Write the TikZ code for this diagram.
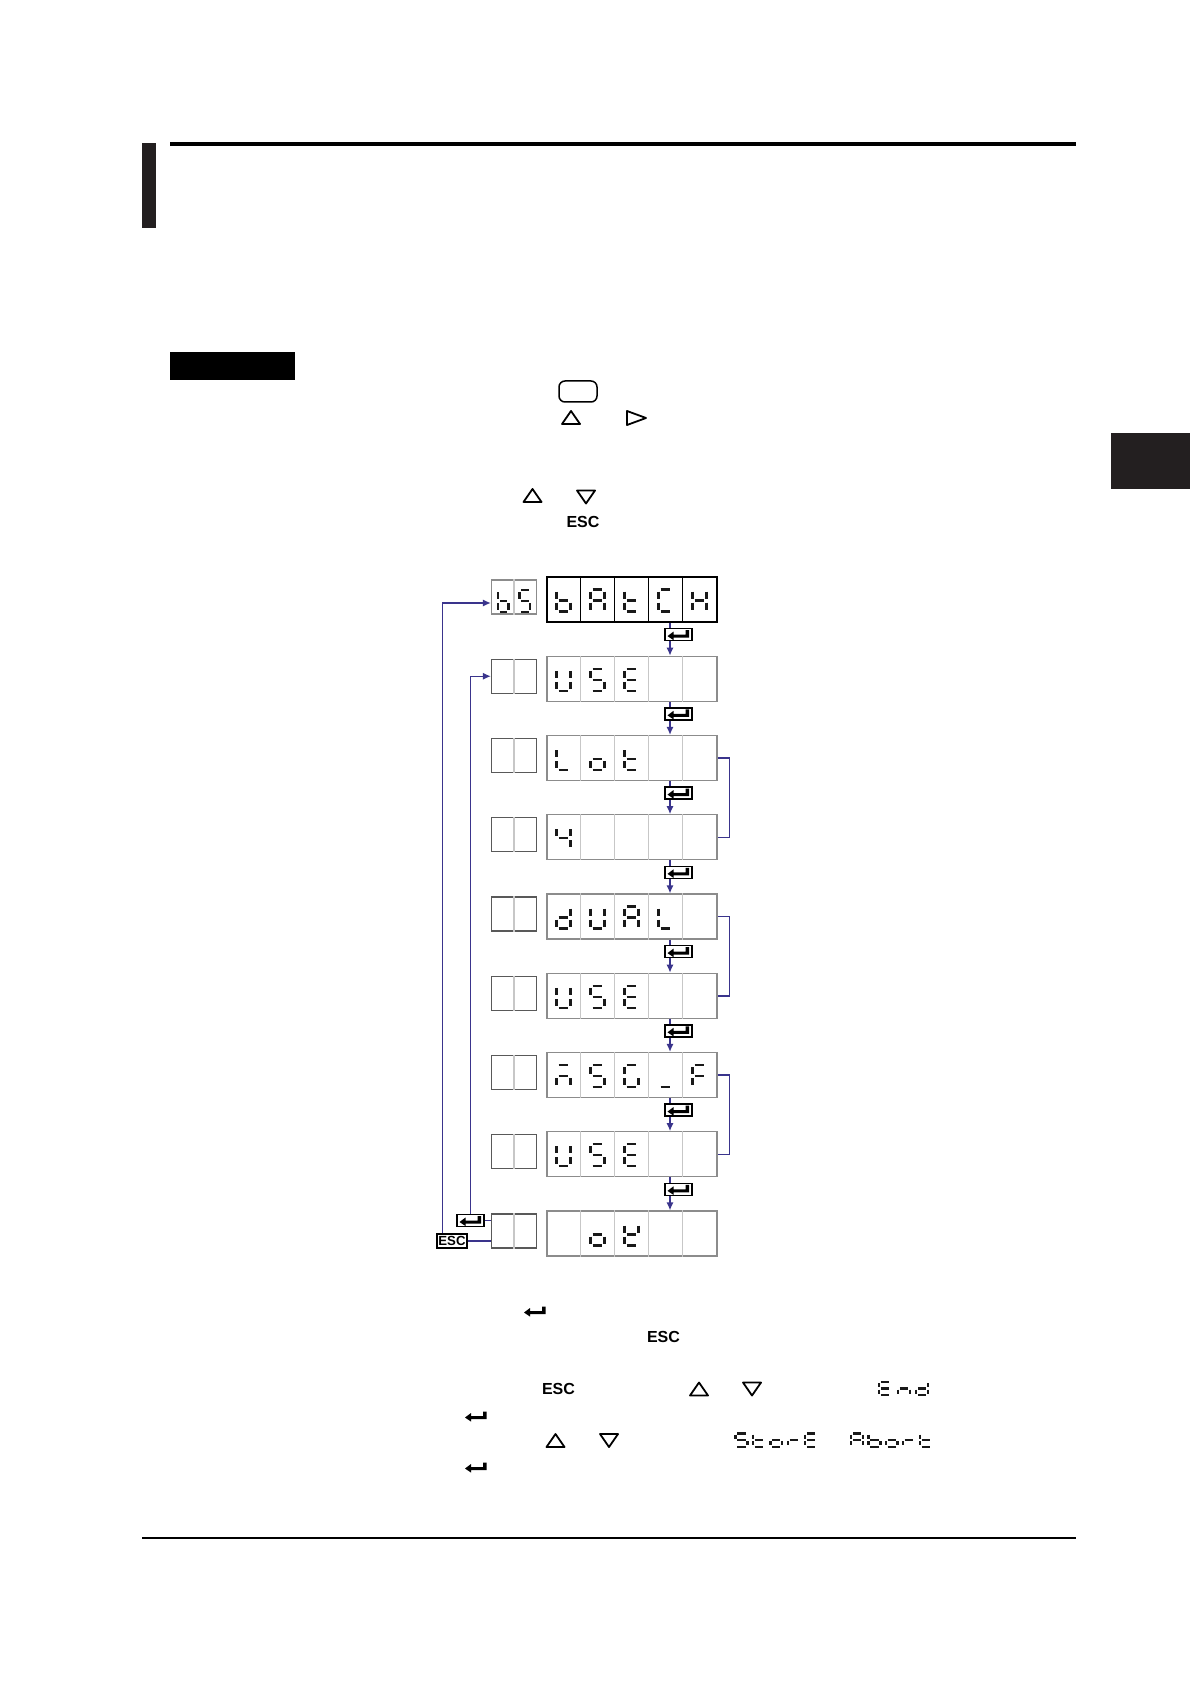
\documentclass[tikz,border=0pt]{standalone}
\usepackage{fontspec}
\setsansfont{Liberation Sans}
\usetikzlibrary{arrows.meta,positioning}

\definecolor{flowblue}{RGB}{58,52,140}
\definecolor{pagedark}{RGB}{35,31,32}

% enter key arrow, centred on (0,0)
\newcommand{\entershape}{(-11,1.5) -- (-5,-3) -- (-5,0) -- (7,0) -- (7,-4.5) -- (10.5,-4.5) -- (10.5,3) -- (-5,3) -- (-5,5.5) -- cycle}

% seven segment digits
\newcommand{\ledseg}[1]{%
  \if a#1\draw[seg] (-4.8,-11) -- (4.8,-11);\fi
  \if b#1\draw[seg] (7,-9) -- (7,-2);\fi
  \if c#1\draw[seg] (7,2) -- (7,9);\fi
  \if d#1\draw[seg] (-4.8,11) -- (4.8,11);\fi
  \if e#1\draw[seg] (-7,2) -- (-7,9);\fi
  \if f#1\draw[seg] (-7,-9) -- (-7,-2);\fi
  \if g#1\draw[seg] (-4.8,0) -- (4.8,0);\fi}
\newcommand{\led}[3][]{\begin{scope}[shift={(#2)},#1]\foreach \s in #3 {\ledseg\s}\end{scope}}
\newcommand{\lcdcell}[3]{\led[shift={(34*#2-17,1)}]{#1.west}{#3}}

\newcommand*{\GlA}{a,b,c,e,f,g}
\newcommand*{\Glb}{c,d,e,f,g}
\newcommand*{\GlC}{a,d,e,f}
\newcommand*{\Gld}{b,c,d,e,g}
\newcommand*{\GlE}{a,d,e,f,g}
\newcommand*{\GlF}{a,e,f,g}
\newcommand*{\GlG}{a,c,d,e,f}
\newcommand*{\GlH}{b,c,e,f,g}
\newcommand*{\GlK}{b,d,e,f,g}
\newcommand*{\GlL}{d,e,f}
\newcommand*{\Glm}{a,c,e,g}
\newcommand*{\Gln}{c,e,g}
\newcommand*{\Glo}{c,d,e,g}
\newcommand*{\Glr}{e,g}
\newcommand*{\GlS}{a,c,d,f,g}
\newcommand*{\Glt}{d,e,f,g}
\newcommand*{\GlU}{b,c,d,e,f}
\newcommand*{\Glfour}{b,c,f,g}
\newcommand*{\Glus}{d}

\newcommand{\uptri}[2]{\draw[keytri] (#1-9,#2+6.5) -- (#1,#2-6.5) -- (#1+9,#2+6.5) -- cycle;}
\newcommand{\downtri}[2]{\draw[keytri] (#1-9,#2-6.5) -- (#1+9,#2-6.5) -- (#1,#2+6.5) -- cycle;}

% one step down the menu
\newcommand{\godown}[2]{%
  \node[enter] (e#1) at ([shift={(46.5,12)}]r#1.south) {};
  \coordinate (d#1) at ([xshift=19pt]r#1.south);
  \draw[flow] (d#1) -- (d#1 |- e#1.north);
  \draw[flow,->] (d#1 |- e#1.south) -- (d#1 |- r#2.north);}

\tikzset{
  seg/.style={draw=black!90,line width=1.2pt},
  smallled/.style={xscale=0.85,yscale=0.6,seg/.style={draw=black!90,line width=1.1pt}},
  lcd/.style={draw=black!45,line width=0.6pt,minimum width=85pt,minimum height=22.5pt,inner sep=0pt},
  tag/.style={draw=black!65,line width=0.6pt,minimum width=22.5pt,minimum height=17pt,inner sep=0pt},
  divline/.style={draw=black!22,line width=0.6pt},
  flow/.style={draw=flowblue,line width=0.75pt},
  enter/.style={draw=black,line width=0.7pt,fill=white,minimum width=13.5pt,minimum height=6pt,inner sep=0pt,
    path picture={\fill[black,shift={(path picture bounding box.center)}] \entershape;}},
  enterbare/.style={minimum width=12pt,minimum height=6pt,inner sep=0pt,
    path picture={\fill[black,shift={(path picture bounding box.center)}] \entershape;}},
  esckey/.style={draw=black,line width=0.7pt,inner sep=0.3pt,minimum width=15pt,minimum height=7pt,
    font=\sffamily\bfseries\fontsize{6.6}{7}\selectfont},
  esclabel/.style={inner sep=0pt,font=\sffamily\bfseries\fontsize{8}{9}\selectfont},
  keytri/.style={draw=black,line width=0.9pt,line join=round},
}

\begin{document}
\begin{tikzpicture}[x=0.5pt,y=-0.5pt,>={Latex[length=4pt,width=3.6pt]},node distance=39.625pt]
  \useasboundingbox (0,0) rectangle (1190,1684);
  \fill[white] (0,0) rectangle (1190,1684);

  % page furniture
  \draw[line width=2pt] (170,144) -- (1076,144);
  \fill[pagedark] (142,143) rectangle (156,228);
  \fill[black] (170,352) rectangle (295,380);
  \fill[pagedark] (1111,433) rectangle (1190,489);
  \draw[line width=0.8pt] (142,1538) -- (1076,1538);

  % keys in the text
  \draw[line width=0.75pt,rounded corners=3pt] (559,381) rectangle (597,402);
  \uptri{571}{417.5}
  \draw[keytri] (627,411) -- (646,418) -- (627,425) -- cycle;
  \uptri{532.5}{495.5}
  \downtri{586}{497}
  \node[esclabel] (esc1) at (583,522) {ESC};

  % display rows
  \node[lcd,draw=black] (r1) at (632,599.5) {};
  \node[lcd] (r2) [below of=r1] {};
  \node[lcd] (r3) [below of=r2] {};
  \node[lcd] (r4) [below of=r3] {};
  \node[lcd] (r5) [below of=r4] {};
  \node[lcd] (r6) [below of=r5] {};
  \node[lcd] (r7) [below of=r6] {};
  \node[lcd] (r8) [below of=r7] {};
  \node[lcd] (r9) [below of=r8] {};

  \node[tag,draw=black!45] (s1) [node distance=59pt,left of=r1,yshift=1.25pt] {};
  \node[tag] (s2) [node distance=59pt,left of=r2,yshift=1.25pt] {};
  \node[tag] (s3) [node distance=59pt,left of=r3,yshift=1.25pt] {};
  \node[tag] (s4) [node distance=59pt,left of=r4,yshift=1.25pt] {};
  \node[tag] (s5) [node distance=59pt,left of=r5,yshift=1.25pt] {};
  \node[tag] (s6) [node distance=59pt,left of=r6,yshift=1.25pt] {};
  \node[tag] (s7) [node distance=59pt,left of=r7,yshift=1.25pt] {};
  \node[tag] (s8) [node distance=59pt,left of=r8,yshift=1.25pt] {};
  \node[tag] (s9) [node distance=59pt,left of=r9,yshift=1.25pt] {};

  \foreach \k in {1,...,4}
    \draw[line width=0.6pt] ([xshift=\k*17pt]r1.north west) -- ([xshift=\k*17pt]r1.south west);
  \draw[divline] (s1.north) -- (s1.south);
  \foreach \i in {2,...,9}{
    \foreach \k in {1,...,4}
      \draw[divline] ([xshift=\k*17pt]r\i.north west) -- ([xshift=\k*17pt]r\i.south west);
    \draw[divline] (s\i.north) -- (s\i.south);
  }

  % characters
  \led[shift={(12.5,4)},xscale=0.75]{s1.west}{\Glb}
  \led[shift={(34,4)},xscale=0.75]{s1.west}{\GlS}
  \lcdcell{r1}{1}{\Glb} \lcdcell{r1}{2}{\GlA} \lcdcell{r1}{3}{\Glt} \lcdcell{r1}{4}{\GlC} \lcdcell{r1}{5}{\GlH}
  \lcdcell{r2}{1}{\GlU} \lcdcell{r2}{2}{\GlS} \lcdcell{r2}{3}{\GlE}
  \lcdcell{r3}{1}{\GlL} \lcdcell{r3}{2}{\Glo} \lcdcell{r3}{3}{\Glt}
  \lcdcell{r4}{1}{\Glfour}
  \lcdcell{r5}{1}{\Gld} \lcdcell{r5}{2}{\GlU} \lcdcell{r5}{3}{\GlA} \lcdcell{r5}{4}{\GlL}
  \lcdcell{r6}{1}{\GlU} \lcdcell{r6}{2}{\GlS} \lcdcell{r6}{3}{\GlE}
  \lcdcell{r7}{1}{\Glm} \lcdcell{r7}{2}{\GlS} \lcdcell{r7}{3}{\GlG} \lcdcell{r7}{4}{\Glus} \lcdcell{r7}{5}{\GlF}
  \lcdcell{r8}{1}{\GlU} \lcdcell{r8}{2}{\GlS} \lcdcell{r8}{3}{\GlE}
  \lcdcell{r9}{2}{\Glo} \lcdcell{r9}{3}{\GlK}

  % enter steps
  \godown{1}{2}
  \godown{2}{3}
  \godown{3}{4}
  \godown{4}{5}
  \godown{5}{6}
  \godown{6}{7}
  \godown{7}{8}
  \godown{8}{9}

  % brackets
  \draw[flow] (r3.east) -- ++(12,0) |- (r4.east);
  \draw[flow] (r5.east) -- ++(12,0) |- (r6.east);
  \draw[flow] (r7.east) -- ++(12,0) |- (r8.east);

  % back to the top
  \node[enter] (ent) at ([shift={(-43.5,-10.5)}]s9.center) {};
  \node[esckey] (esc) at ([shift={(-62,10)}]s9.center) {ESC};
  \draw[flow] (ent.east) -- (ent.east -| s9.west);
  \draw[flow] (esc.east) -- (esc.east -| s9.west);
  \draw[flow,->] (ent.north) |- (s2.west);
  \draw[flow,->] ([xshift=3pt]esc.north west) |- ([yshift=-3pt]s1.west);

  % keys and words below
  \node[enterbare] (ent1) at (535,1311) {};
  \node[esclabel] (esc2) at (663.5,1337) {ESC};
  \node[esclabel] (esc3) at (558.5,1389) {ESC};
  \uptri{699}{1389}
  \downtri{752}{1389}
  \led[smallled]{885,1388.5}{\GlE}
  \led[smallled]{904,1388.5}{\Gln}
  \led[smallled]{922,1388.5}{\Gld}
  \node[enterbare] (ent2) at (476,1416) {};
  \uptri{555.5}{1440.5}
  \downtri{609}{1440.5}
  \led[smallled]{741.5,1440}{\GlS}
  \led[smallled]{758.8,1440}{\Glt}
  \led[smallled]{776.4,1440}{\Glo}
  \led[smallled]{794,1440}{\Glr}
  \led[smallled]{811,1440}{\GlE}
  \led[smallled]{857.3,1440}{\GlA}
  \led[smallled]{874.5,1440}{\Glb}
  \led[smallled]{891.6,1440}{\Glo}
  \led[smallled]{908.7,1440}{\Glr}
  \led[smallled]{925.8,1440}{\Glt}
  \node[enterbare] (ent3) at (476,1467) {};
\end{tikzpicture}
\end{document}
